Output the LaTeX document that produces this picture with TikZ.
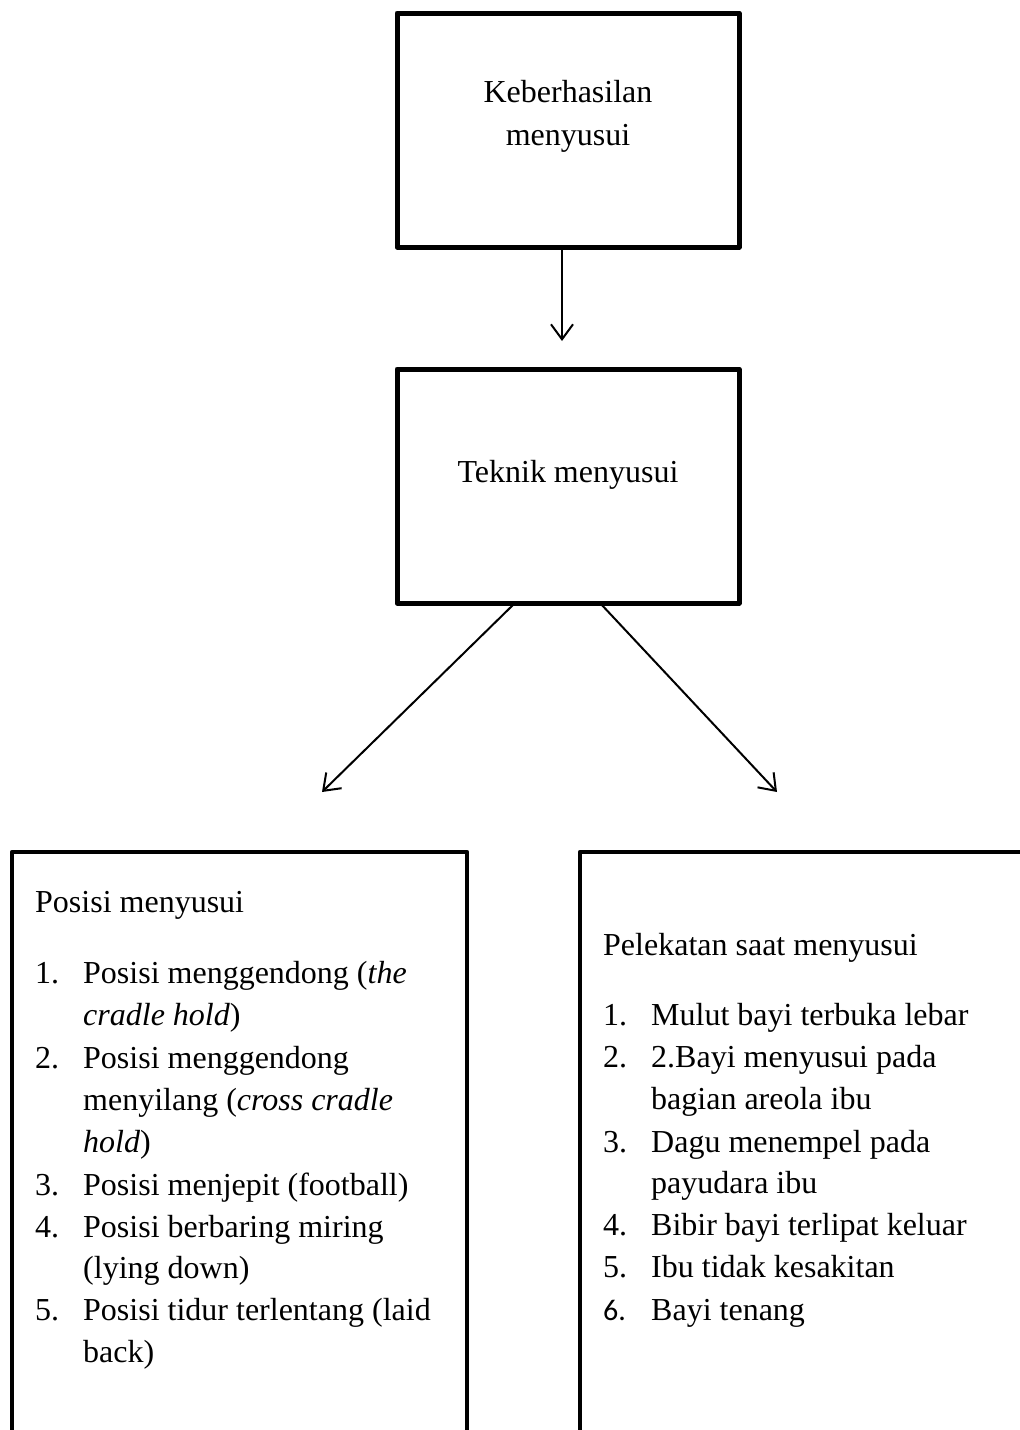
\documentclass[tikz,border=0pt]{standalone}
\usepackage{fontspec}
\setmainfont{Liberation Serif}
\newfontfamily\numfont{Carlito}
\usetikzlibrary{arrows.meta}
\tikzset{
  boxline/.style={draw=black, line width=5pt, line join=round},
  bigbox/.style={boxline, minimum width=342pt, minimum height=234pt, inner sep=0pt},
  txt/.style={anchor=base west, inner sep=0pt, font=\fontsize{32}{42}\selectfont},
  ctxt/.style={anchor=base, inner sep=0pt, font=\fontsize{32}{42}\selectfont},
  conn/.style={line width=2pt, -{Straight Barb[length=15pt, width=22pt, line width=2pt]}}
}
\begin{document}
\begin{tikzpicture}[x=1pt, y=-1pt]
\useasboundingbox (0,0) rectangle (1020,1430);
\clip (0,0) rectangle (1020,1430);
% top boxes
\node[bigbox] (top) at (568,130) {};
\node[bigbox] (mid) at (568,486) {};
\node[ctxt] (t1) at (568,102) {Keberhasilan};
\node[ctxt] (t2) at (568,145) {menyusui};
\node[ctxt] (m1) at (568,482) {Teknik menyusui};
% connectors
\coordinate (a1s) at (562,247);
\coordinate (a1e) at (562,341);
\coordinate (a2s) at (515,603);
\coordinate (a2e) at (322,792);
\coordinate (a3s) at (600,603);
\coordinate (a3e) at (777,792);
\draw[conn] (a1s) -- (a1e);
\draw[conn] (a2s) -- (a2e);
\draw[conn] (a3s) -- (a3e);
% bottom boxes (open below the page edge)
\draw[line width=4.5pt, line join=round] (12,1450) -- (12,852) -- (467,852) -- (467,1450);
\draw[line width=4.5pt, line join=round] (580,1450) -- (580,852) -- (1040,852);
% left list
\node[txt] (lh) at (35,912) {Posisi menyusui};
\node[txt] (ln1) at (35,983) {1.};
\node[txt] (l1a) at (83,983) {Posisi menggendong (\textit{the}};
\node[txt] (l1b) at (83,1025) {\textit{cradle hold})};
\node[txt] (ln2) at (35,1068) {2.};
\node[txt] (l2a) at (83,1068) {Posisi menggendong};
\node[txt] (l2b) at (83,1110) {menyilang (\textit{cross cradle}};
\node[txt] (l2c) at (83,1152) {\textit{hold})};
\node[txt] (ln3) at (35,1195) {3.};
\node[txt] (l3a) at (83,1195) {Posisi menjepit (football)};
\node[txt] (ln4) at (35,1237) {4.};
\node[txt] (l4a) at (83,1237) {Posisi berbaring miring};
\node[txt] (l4b) at (83,1278) {(lying down)};
\node[txt] (ln5) at (35,1320) {5.};
\node[txt] (l5a) at (83,1320) {Posisi tidur terlentang (laid};
\node[txt] (l5b) at (83,1362) {back)};
% right list
\node[txt] (rh) at (603,955) {Pelekatan saat menyusui};
\node[txt] (rn1) at (603,1025) {1.};
\node[txt] (r1a) at (651,1025) {Mulut bayi terbuka lebar};
\node[txt] (rn2) at (603,1067) {2.};
\node[txt] (r2a) at (651,1067) {2.Bayi menyusui pada};
\node[txt] (r2b) at (651,1109) {bagian areola ibu};
\node[txt] (rn3) at (603,1152) {3.};
\node[txt] (r3a) at (651,1152) {Dagu menempel pada};
\node[txt] (r3b) at (651,1193) {payudara ibu};
\node[txt] (rn4) at (603,1235) {4.};
\node[txt] (r4a) at (651,1235) {Bibir bayi terlipat keluar};
\node[txt] (rn5) at (603,1277) {5.};
\node[txt] (r5a) at (651,1277) {Ibu tidak kesakitan};
\node[txt, font=\numfont\fontsize{30}{42}\selectfont] (rn6) at (603,1320) {6.};
\node[txt] (r6a) at (651,1320) {Bayi tenang};
\end{tikzpicture}
\end{document}
